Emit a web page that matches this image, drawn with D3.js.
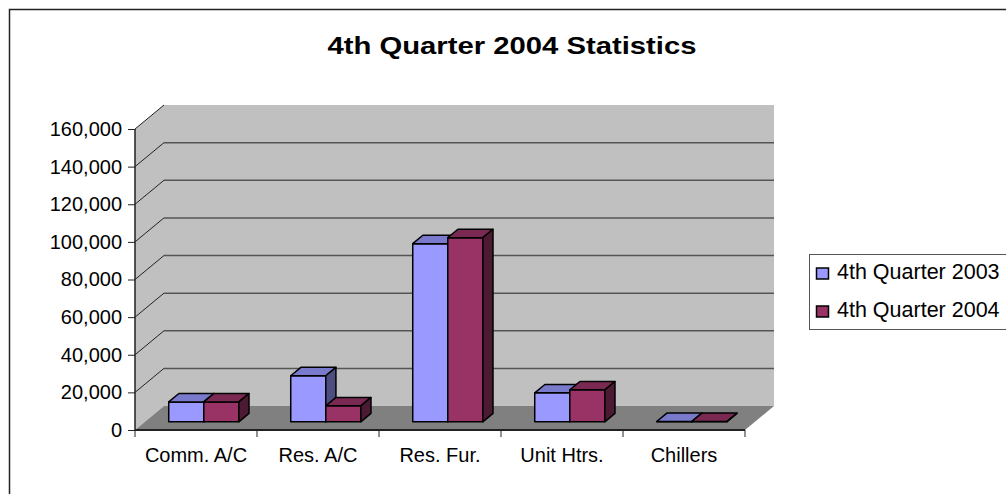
<!DOCTYPE html>
<html>
<head>
<meta charset="utf-8">
<script src="https://cdn.jsdelivr.net/npm/d3@7.9.0/dist/d3.min.js"></script>
<style>
  body { margin: 0; background: #fff; }
  svg { display: block; font-family: Arial, "Liberation Sans", sans-serif; }
</style>
</head>
<body>
<div id="chart"></div>
<script>
const categories = ["Comm. A/C", "Res. A/C", "Res. Fur.", "Unit Htrs.", "Chillers"];
const seriesNames = ["4th Quarter 2003", "4th Quarter 2004"];
const q2003 = [10600, 24500, 94700, 15400, 200];
const q2004 = [10600, 8500, 97900, 17000, 200];
const yTicks = [0, 20000, 40000, 60000, 80000, 100000, 120000, 140000, 160000];

const width = 1006, height = 494;
const colors = ["#9999FF", "#993366"];
const fontFam = "Arial, 'Liberation Sans', sans-serif";

const svg = d3.select("#chart").append("svg")
    .attr("width", width)
    .attr("height", height);

// outer chart border (runs off right/bottom edges)
svg.append("rect")
    .attr("x", 9.5).attr("y", 9.5)
    .attr("width", 1100).attr("height", 600)
    .attr("fill", "none")
    .attr("stroke", "#222")
    .attr("stroke-width", 1.5);

svg.append("text")
    .attr("x", 512).attr("y", 54)
    .attr("text-anchor", "middle")
    .attr("font-size", 24)
    .attr("font-weight", "bold")
    .attr("textLength", 369)
    .attr("lengthAdjust", "spacingAndGlyphs")
    .text("4th Quarter 2004 Statistics");

// 3D frame
const x0 = 135, x1 = 745;
const depth = { dx: 29, dy: -24 };
const y = d3.scaleLinear().domain([0, 160000]).range([430, 129]);
const x = d3.scaleBand().domain(categories).range([x0, x1]);
const xs = d3.scaleBand().domain(seriesNames).range([0, x.bandwidth()])
    .paddingInner(0).paddingOuter(0.74).align(0.46);

const poly = pts => pts.map(p => p.join(",")).join(" ");
const g = svg.append("g");

// side wall
g.append("polygon")
    .attr("points", poly([[x0, y(0)], [x0, y(160000)], [x0 + depth.dx, y(160000) + depth.dy], [x0 + depth.dx, y(0) + depth.dy]]))
    .attr("fill", "#C0C0C0");
// back wall
g.append("polygon")
    .attr("points", poly([[x0 + depth.dx, y(160000) + depth.dy], [x1 + depth.dx, y(160000) + depth.dy], [x1 + depth.dx, y(0) + depth.dy], [x0 + depth.dx, y(0) + depth.dy]]))
    .attr("fill", "#C0C0C0");
// floor
g.append("polygon")
    .attr("points", poly([[x0, y(0)], [x1, y(0)], [x1 + depth.dx, y(0) + depth.dy], [x0 + depth.dx, y(0) + depth.dy]]))
    .attr("fill", "#808080");

// gridlines
const grid = yTicks.filter(d => d > 0 && d < 160000);
g.selectAll(".gb").data(grid).join("line")
    .attr("x1", x0 + depth.dx).attr("x2", x1 + depth.dx)
    .attr("y1", d => y(d) + depth.dy).attr("y2", d => y(d) + depth.dy)
    .attr("stroke", "#555").attr("stroke-width", 1.5);
g.selectAll(".gs").data(yTicks.filter(d => d > 0)).join("line")
    .attr("x1", x0).attr("x2", x0 + depth.dx)
    .attr("y1", d => y(d)).attr("y2", d => y(d) + depth.dy)
    .attr("stroke", "#222").attr("stroke-width", 1);

// axes
const yAxis = svg.append("g")
    .attr("transform", `translate(${x0},0)`)
    .call(d3.axisLeft(y).tickValues(yTicks).tickFormat(d3.format(",")).tickSize(7).tickPadding(6));
yAxis.select(".domain").attr("d", `M0,${y(0)}V${y(160000)}`).attr("stroke", "#222").attr("stroke-width", 1.5);
yAxis.selectAll(".tick line").attr("stroke", "#222");
yAxis.selectAll("text").attr("font-size", 20).attr("font-family", fontFam).attr("fill", "#000");

const xAxis = svg.append("g")
    .attr("transform", `translate(0,${y(0)})`);
xAxis.append("line").attr("x1", x0).attr("x2", x1).attr("y1", 0).attr("y2", 0)
    .attr("stroke", "#222").attr("stroke-width", 2);
xAxis.selectAll(".xt").data(categories.map(c => x(c)).concat([x1])).join("line")
    .attr("x1", d => d).attr("x2", d => d).attr("y1", 0).attr("y2", 7)
    .attr("stroke", "#222");
xAxis.selectAll(".xl").data(categories).join("text")
    .attr("x", d => x(d) + x.bandwidth() / 2)
    .attr("y", 32)
    .attr("text-anchor", "middle")
    .attr("font-size", 20)
    .text(d => d);

// bars
const shade = (c, k) => { const r = d3.rgb(c); return d3.rgb(r.r * k, r.g * k, r.b * k).toString(); };
const barFront = 0.34, barDepth = 0.35;
const data = [];
categories.forEach((c, i) => {
    data.push({ cat: c, s: 0, v: q2003[i] });
    data.push({ cat: c, s: 1, v: q2004[i] });
});
const bars = g.selectAll(".bar").data(data).join("g");
bars.each(function (d) {
    const sel = d3.select(this);
    const ox = depth.dx * barFront, oy = depth.dy * barFront;
    const bx = depth.dx * barDepth, by = depth.dy * barDepth;
    const xl = x(d.cat) + xs(seriesNames[d.s]) + ox;
    const xr = xl + xs.bandwidth();
    const yb = y(0) + oy, yt = y(d.v) + oy;
    const add = (pts, fill) => sel.append("polygon").attr("points", poly(pts)).attr("fill", fill)
        .attr("stroke", "#000").attr("stroke-width", 1.5).attr("stroke-linejoin", "round");
    add([[xl, yb], [xr, yb], [xr, yt], [xl, yt]], colors[d.s]);
    add([[xl, yt], [xr, yt], [xr + bx, yt + by], [xl + bx, yt + by]], shade(colors[d.s], 0.8));
    add([[xr, yb], [xr + bx, yb + by], [xr + bx, yt + by], [xr, yt]], shade(colors[d.s], 0.5));
});

// legend
const lg = svg.append("g");
lg.append("rect")
    .attr("x", 809.5).attr("y", 254.5).attr("width", 220).attr("height", 75)
    .attr("fill", "#fff").attr("stroke", "#555").attr("stroke-width", 1);
const li = lg.selectAll(".li").data(seriesNames).join("g")
    .attr("transform", (d, i) => `translate(816,${273 + i * 38})`);
li.append("rect").attr("x", 0.5).attr("y", -5).attr("width", 12).attr("height", 11)
    .attr("fill", (d, i) => colors[i]).attr("stroke", "#000").attr("stroke-width", 1.5);
li.append("text").attr("x", 21).attr("y", 6).attr("font-size", 21.5).text(d => d);
</script>
</body>
</html>
